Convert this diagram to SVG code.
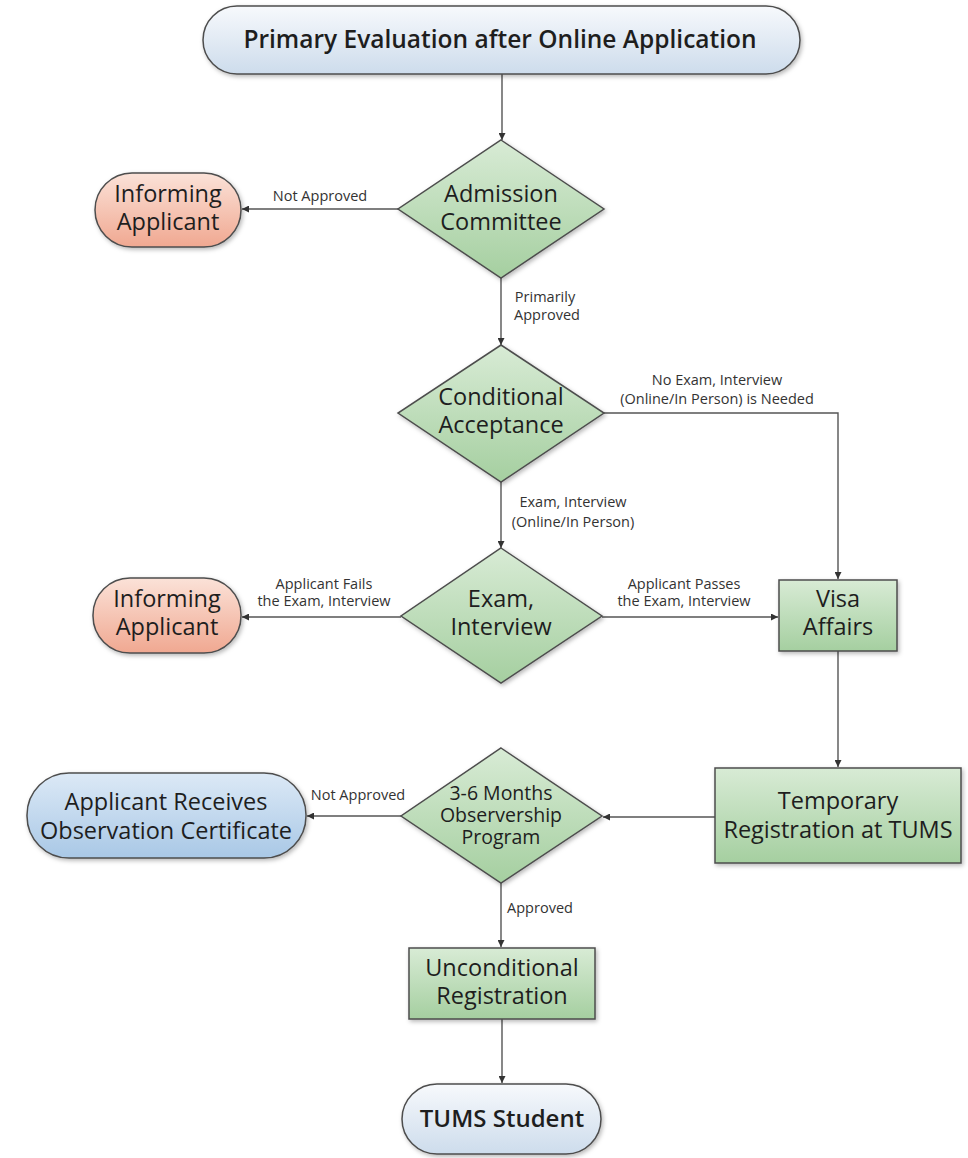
<svg xmlns="http://www.w3.org/2000/svg" width="968" height="1158" viewBox="0 0 968 1158">
<style>
.node{stroke:#4d4d4d;stroke-width:1.5;filter:url(#sh)}
.t{font-family:"Open Sans","Liberation Sans",sans-serif;font-size:23.5px;fill:#1e1e1e;text-anchor:middle}
.tb{font-family:"Open Sans","Liberation Sans",sans-serif;font-size:24.5px;font-weight:600;fill:#1e1e1e;text-anchor:middle}
.lb{font-family:"Open Sans","Liberation Sans",sans-serif;font-size:14.5px;fill:#333;text-anchor:middle}
.c{fill:none;stroke:#555;stroke-width:1.4;marker-end:url(#ah)}
</style>
<defs>
<linearGradient id="gBlueL" x1="0" y1="0" x2="0" y2="1"><stop offset="0" stop-color="#f7f9fc"/><stop offset="1" stop-color="#cddcec"/></linearGradient>
<linearGradient id="gBlue" x1="0" y1="0" x2="0" y2="1"><stop offset="0" stop-color="#dce9f6"/><stop offset="1" stop-color="#a9c8e6"/></linearGradient>
<linearGradient id="gRed" x1="0" y1="0" x2="0" y2="1"><stop offset="0" stop-color="#fbe2d8"/><stop offset="1" stop-color="#f0a891"/></linearGradient>
<linearGradient id="gGreen" x1="0" y1="0" x2="0" y2="1"><stop offset="0" stop-color="#d8ebd5"/><stop offset="1" stop-color="#a5cfa0"/></linearGradient>
<filter id="sh" x="-10%" y="-10%" width="125%" height="130%"><feDropShadow dx="1.5" dy="2" stdDeviation="2" flood-color="#000" flood-opacity="0.28"/></filter>
<marker id="ah" viewBox="0 0 10 10" refX="10" refY="5" markerWidth="7" markerHeight="7" markerUnits="userSpaceOnUse" orient="auto"><path d="M0,0 L10,5 L0,10 z" fill="#333"/></marker>
</defs>

<g id="connectors">
<path class="c" d="M502,74 V140"/>
<path class="c" d="M398,209 H242"/>
<path class="c" d="M501,278 V345"/>
<path class="c" d="M604,413 H838 V579"/>
<path class="c" d="M501,482 V548"/>
<path class="c" d="M401,617 H242"/>
<path class="c" d="M602,617 H778"/>
<path class="c" d="M838,651 V767"/>
<path class="c" d="M715,817 H603"/>
<path class="c" d="M401,816 H307"/>
<path class="c" d="M501,883 V947"/>
<path class="c" d="M502,1019 V1083"/>
<text class="lb" x="320" y="201">Not Approved</text>
<text class="lb" x="545" y="302">Primarily</text>
<text class="lb" x="547" y="320">Approved</text>
<text class="lb" x="717" y="385">No Exam, Interview</text>
<text class="lb" x="717" y="404">(Online/In Person) is Needed</text>
<text class="lb" x="573" y="507">Exam, Interview</text>
<text class="lb" x="573" y="527">(Online/In Person)</text>
<text class="lb" x="324" y="589">Applicant Fails</text>
<text class="lb" x="324" y="606">the Exam, Interview</text>
<text class="lb" x="684" y="589">Applicant Passes</text>
<text class="lb" x="684" y="606">the Exam, Interview</text>
<text class="lb" x="358" y="800">Not Approved</text>
<text class="lb" x="540" y="913">Approved</text>
</g>

<g id="n-primary">
<rect class="node" x="203" y="6" width="597" height="68" rx="34" fill="url(#gBlueL)"/>
<text class="tb" x="500" y="48">Primary Evaluation after Online Application</text>
</g>
<g id="n-admission">
<polygon class="node" points="501,140 604,209 501,278 398,209" fill="url(#gGreen)"/>
<text class="t" x="501" y="202">Admission</text>
<text class="t" x="501" y="230">Committee</text>
</g>
<g id="n-inform1">
<rect class="node" x="95" y="173" width="146" height="74" rx="37" fill="url(#gRed)"/>
<text class="t" x="168" y="202">Informing</text>
<text class="t" x="168" y="230">Applicant</text>
</g>
<g id="n-conditional">
<polygon class="node" points="501,345 604,413 501,482 398,413" fill="url(#gGreen)"/>
<text class="t" x="501" y="405">Conditional</text>
<text class="t" x="501" y="433">Acceptance</text>
</g>
<g id="n-exam">
<polygon class="node" points="501,548 602,616 501,683 401,616" fill="url(#gGreen)"/>
<text class="t" x="501" y="607">Exam,</text>
<text class="t" x="501" y="635">Interview</text>
</g>
<g id="n-inform2">
<rect class="node" x="93" y="578" width="148" height="75" rx="37" fill="url(#gRed)"/>
<text class="t" x="167" y="607">Informing</text>
<text class="t" x="167" y="635">Applicant</text>
</g>
<g id="n-visa">
<rect class="node" x="779" y="580" width="118" height="71" fill="url(#gGreen)"/>
<text class="t" x="838" y="607">Visa</text>
<text class="t" x="838" y="635">Affairs</text>
</g>
<g id="n-temporary">
<rect class="node" x="715" y="768" width="246" height="95" fill="url(#gGreen)"/>
<text class="t" x="838" y="809">Temporary</text>
<text class="t" x="838" y="838">Registration at TUMS</text>
</g>
<g id="n-observership">
<polygon class="node" points="501,748 602,816 501,883 401,816" fill="url(#gGreen)"/>
<text class="t" x="501" y="800" style="font-size:19.5px">3-6 Months</text>
<text class="t" x="501" y="822" style="font-size:19.5px">Observership</text>
<text class="t" x="501" y="844" style="font-size:19.5px">Program</text>
</g>
<g id="n-certificate">
<rect class="node" x="27" y="773" width="279" height="85" rx="42" fill="url(#gBlue)"/>
<text class="t" x="166" y="810">Applicant Receives</text>
<text class="t" x="166" y="839">Observation Certificate</text>
</g>
<g id="n-unconditional">
<rect class="node" x="409" y="948" width="186" height="71" fill="url(#gGreen)"/>
<text class="t" x="502" y="976">Unconditional</text>
<text class="t" x="502" y="1004">Registration</text>
</g>
<g id="n-student">
<rect class="node" x="402" y="1084" width="199" height="70" rx="35" fill="url(#gBlueL)"/>
<text class="tb" x="502" y="1127" style="font-size:24px">TUMS Student</text>
</g>
</svg>
